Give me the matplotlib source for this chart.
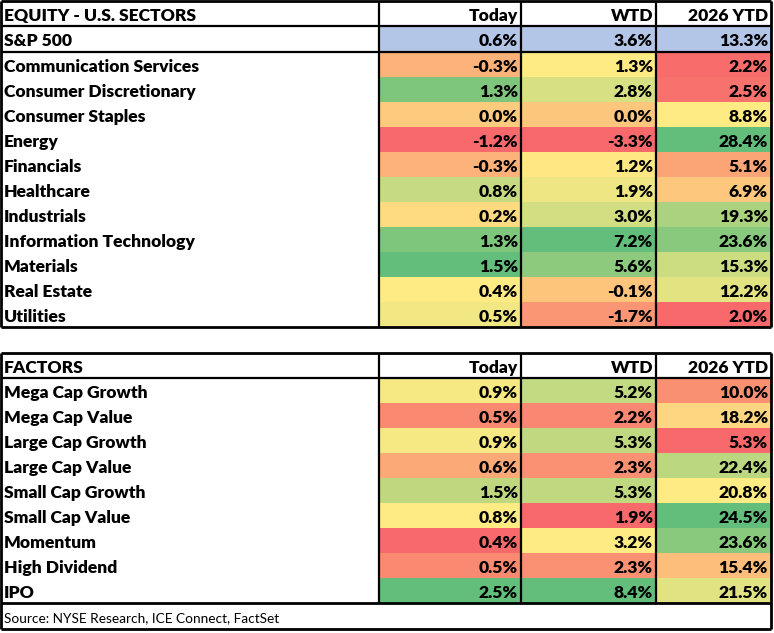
import numpy as np
import matplotlib; matplotlib.use("Agg")
import matplotlib.pyplot as plt
from matplotlib.colors import LinearSegmentedColormap, TwoSlopeNorm

plt.rcParams["font.family"] = ["Lato", "DejaVu Sans"]

COLS = ["Today", "WTD", "2026 YTD"]

SECTOR_TITLE = "EQUITY - U.S. SECTORS"
SPX_LABEL = "S&P 500"
SPX_VALUES = [0.6, 3.6, 13.3]
SECTORS = ["Communication Services", "Consumer Discretionary", "Consumer Staples", "Energy",
           "Financials", "Healthcare", "Industrials", "Information Technology", "Materials",
           "Real Estate", "Utilities"]
SEC_TODAY = [-0.3, 1.3, 0.0, -1.2, -0.3, 0.8, 0.2, 1.3, 1.5, 0.4, 0.5]
SEC_WTD = [1.3, 2.8, 0.0, -3.3, 1.2, 1.9, 3.0, 7.2, 5.6, -0.1, -1.7]
SEC_YTD = [2.2, 2.5, 8.8, 28.4, 5.1, 6.9, 19.3, 23.6, 15.3, 12.2, 2.0]

FACTOR_TITLE = "FACTORS"
FACTORS = ["Mega Cap Growth", "Mega Cap Value", "Large Cap Growth", "Large Cap Value",
           "Small Cap Growth", "Small Cap Value", "Momentum", "High Dividend", "IPO"]
FAC_TODAY = [0.9, 0.5, 0.9, 0.6, 1.5, 0.8, 0.4, 0.5, 2.5]
FAC_WTD = [5.2, 2.2, 5.3, 2.3, 5.3, 1.9, 3.2, 2.3, 8.4]
FAC_YTD = [10.0, 18.2, 5.3, 22.4, 20.8, 24.5, 23.6, 15.4, 21.5]

SOURCE = "Source: NYSE Research, ICE Connect, FactSet"

# excel 3-colour scale: min red, median yellow, max green
scale = LinearSegmentedColormap.from_list("xl", ["#F8696B", "#FFEB84", "#63BE7B"])
SPX_FILL = "#B4C6E7"
W, H = 774, 633
XE = [1, 379, 521, 656, 771]          # column edges (px)
ROW = 25
FS = 12.6
WT = 800

fig = plt.figure(figsize=(W / 100, H / 100), dpi=100)
ax = fig.add_axes([0, 0, 1, 1])
ax.set_xlim(0, W); ax.set_ylim(H, 0); ax.axis("off")


def hline(y, x0=XE[0], x1=XE[-1], lw=1.6):
    ax.plot([x0, x1], [y, y], color="black", lw=lw, solid_capstyle="butt")


def vline(x, y0, y1, lw=1.6):
    ax.plot([x, x], [y0, y1], color="black", lw=lw, solid_capstyle="butt")


def cell_text(x, y, s, right=False, bold=True, size=FS):
    ax.text(x, y, s, ha="right" if right else "left", va="center_baseline", fontsize=size,
            fontweight=WT if bold else "normal", color="black")


def heat_block(y_top, labels, columns):
    ye = y_top + ROW * np.arange(len(labels) + 1)
    for j, vals in enumerate(columns):
        v = np.asarray(vals, float)
        norm = TwoSlopeNorm(vmin=v.min(), vcenter=np.median(v), vmax=v.max())
        ax.pcolormesh(XE[j + 1:j + 3], ye, v[:, None], cmap=scale, norm=norm, shading="flat")
        for i, val in enumerate(v):
            cell_text(XE[j + 2] - 3, ye[i] + ROW / 2 + 1, f"{val:.1f}%", right=True)
    for i, lab in enumerate(labels):
        cell_text(4, ye[i] + ROW / 2 + 1, lab)
    return ye[-1]


def header(y0, y1, title):
    for j, c in enumerate(COLS):
        cell_text(XE[j + 2] - 3, (y0 + y1) / 2 + 1, c, right=True)
    cell_text(4, (y0 + y1) / 2 + 1, title)


# ---- sectors table ----
t0, t1, t2 = 1, 26, 52
header(t0, t1, SECTOR_TITLE)
ax.pcolormesh(XE[1:], [t1, t2], np.zeros((1, 3)), cmap=LinearSegmentedColormap.from_list("s", [SPX_FILL, SPX_FILL]))
cell_text(4, (t1 + t2) / 2 + 1, SPX_LABEL)
for j, val in enumerate(SPX_VALUES):
    cell_text(XE[j + 2] - 3, (t1 + t2) / 2 + 1, f"{val:.1f}%", right=True)
tb = heat_block(t2, SECTORS, [SEC_TODAY, SEC_WTD, SEC_YTD])
for y in (t0, t1, t2, tb):
    hline(y, lw=2.0 if y in (t0, tb) else 1.6)
for x in XE:
    vline(x, t0, tb, lw=2.0 if x in (XE[0], XE[-1]) else 1.6)

# ---- factors table ----
f0 = 353; f1 = f0 + ROW
header(f0, f1, FACTOR_TITLE)
fb = heat_block(f1, FACTORS, [FAC_TODAY, FAC_WTD, FAC_YTD])
sb = fb + 26
cell_text(4, (fb + sb) / 2 + 1, SOURCE, bold=False, size=9.8)
for y in (f0, f1, fb, sb):
    hline(y, lw=2.0 if y in (f0, fb, sb) else 1.6)
for x in XE[1:-1]:
    vline(x, f0, fb)
vline(XE[0], f0, sb, lw=2.0); vline(XE[-1], f0, sb, lw=2.0)

fig.savefig("out.png", dpi=100, facecolor="white")
